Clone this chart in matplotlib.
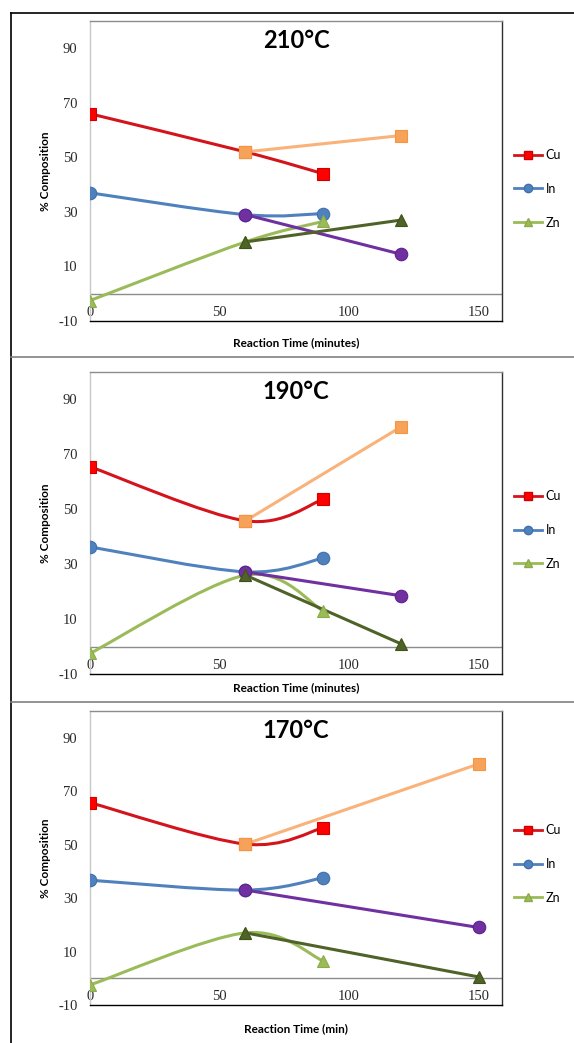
#!/usr/bin/env python3
# CuInZn composition vs reaction time at three temperatures (Excel style smoothed lines)
import numpy as np
import matplotlib
matplotlib.use('Agg')
import matplotlib.pyplot as plt
from matplotlib.path import Path
from matplotlib.patches import PathPatch
from matplotlib.lines import Line2D

plt.rcParams['axes.unicode_minus'] = False

# ---- data ----
time_main = [0, 60, 90]
time_late = [60, 120]          # 210 and 190 C
time_late_170 = [60, 150]      # 170 C

cu_210 = [66, 52, 44]
cu2_210 = [52, 58]
in_210 = [37, 29, 29.4]
in2_210 = [29, 14.5]
zn_210 = [-2.5, 19, 26.5]
zn2_210 = [19, 27]

cu_190 = [65.5, 45.8, 53.6]
cu2_190 = [45.8, 80]
in_190 = [36.3, 27.2, 32.2]
in2_190 = [27.2, 18.5]
zn_190 = [-2.5, 26, 13]
zn2_190 = [26, 1]

cu_170 = [65.7, 50.2, 56.3]
cu2_170 = [50.2, 80.2]
in_170 = [36.7, 33, 37.6]
in2_170 = [33, 19]
zn_170 = [-2.5, 17, 6.5]
zn2_170 = [17, 0.5]

titles = ['210°C', '190°C', '170°C']
xlabels = ['Reaction Time (minutes)', 'Reaction Time (minutes)', 'Reaction Time (min)']
legend_names = ['Cu', 'In', 'Zn']
xticks = [0, 50, 100, 150]
yticks = [-10, 10, 30, 50, 70, 90]

W, H = 574, 1043
# panel axes boxes in pixels: (top, bottom)
panel_px = [(21, 321), (372, 674), (711, 1005)]
legend_top_px = [149, 490, 824]
xlabel_pads = [12, 6, 13]
AX_LEFT, AX_RIGHT = 90, 502

SANS = ['Lato', 'DejaVu Sans']
SERIF = ['Liberation Serif', 'DejaVu Serif']

# colours: (line, marker face, marker edge)
C_CU = ('#d4141c', '#ff0000', '#d00000')
C_CU2 = ('#f9b27a', '#f7a25a', '#f59540')
C_IN = ('#4f81bd', '#4f81bd', '#3f71ad')
C_IN2 = ('#7030a0', '#7030a0', '#602090')
C_ZN = ('#9bbb59', '#9bbb59', '#8bab49')
C_ZN2 = ('#4f6228', '#4f6228', '#3f5218')


def smoothPath(xs, ys, t=1.0 / 6):
    '''bezier through the points, like excel "smoothed line"'''
    pts = np.column_stack([xs, ys]).astype(float)
    n = len(pts)
    verts = [pts[0]]
    codes = [Path.MOVETO]
    for i in range(n - 1):
        p_prev = pts[max(i - 1, 0)]
        p0 = pts[i]
        p1 = pts[i + 1]
        p_next = pts[min(i + 2, n - 1)]
        verts += [p0 + (p1 - p_prev) * t, p1 - (p_next - p0) * t, p1]
        codes += [Path.CURVE4] * 3
    return Path(verts, codes)


def drawSeries(ax, xs, ys, colors, marker, ms):
    line_c, face_c, edge_c = colors
    ax.add_patch(PathPatch(smoothPath(xs, ys), fill=False, edgecolor=line_c,
                           lw=2.2, capstyle='round', joinstyle='round', zorder=3))
    ax.plot(xs, ys, ls='none', marker=marker, ms=ms, mfc=face_c, mec=edge_c,
            mew=0.8, zorder=4)


def drawPanel(ax, series, title, xlabel, leg_top, xpad):
    cu, cu2, inn, inn2, zn, zn2, t_late = series
    drawSeries(ax, time_main, cu, C_CU, 's', 9)
    drawSeries(ax, time_main, inn, C_IN, 'o', 9)
    drawSeries(ax, time_main, zn, C_ZN, '^', 8.5)
    drawSeries(ax, t_late, cu2, C_CU2, 's', 9)
    drawSeries(ax, t_late, inn2, C_IN2, 'o', 9)
    drawSeries(ax, t_late, zn2, C_ZN2, '^', 8.5)

    ax.set_xlim(0, 159)
    ax.set_ylim(-10, 100)
    ax.axhline(0, color='#8c8c8c', lw=1.0, zorder=2)

    ax.set_xticks(xticks)
    ax.set_yticks(yticks)
    ax.tick_params(length=0, labelsize=10.5, colors='#2a2a2a')
    ax.tick_params(axis='x', pad=-10.5)
    ax.tick_params(axis='y', pad=9)
    for lab in ax.get_xticklabels() + ax.get_yticklabels():
        lab.set_family(SERIF)

    ax.spines['top'].set_color('#8c8c8c')
    ax.spines['left'].set_color('#c8c8c8')
    ax.spines['right'].set_color('#303030')
    ax.spines['bottom'].set_color('#000000')
    for s in ax.spines.values():
        s.set_linewidth(1.0)

    ax.text(0.5, 0.935, title, transform=ax.transAxes, ha='center', va='center',
            fontsize=17, fontweight='bold', family=SANS)
    ax.set_xlabel(xlabel, fontsize=8.5, fontweight='bold', family=SANS, labelpad=xpad)
    ax.set_ylabel('% Composition', fontsize=8.5, fontweight='bold', family=SANS,
                  labelpad=5)

    handles = [
        Line2D([], [], color=C_CU[0], lw=2, marker='s', ms=6, mfc=C_CU[1], mec=C_CU[2]),
        Line2D([], [], color=C_IN[0], lw=2, marker='o', ms=6, mfc=C_IN[1], mec=C_IN[2]),
        Line2D([], [], color=C_ZN[0], lw=2, marker='^', ms=6, mfc=C_ZN[1], mec=C_ZN[2]),
    ]
    ax.legend(handles, legend_names, loc='upper left', frameon=False,
              bbox_to_anchor=(514 / W, 1 - leg_top / H), bbox_transform=ax.figure.transFigure,
              borderpad=0, borderaxespad=0, handlelength=2.2, handletextpad=0.35,
              labelspacing=1.75, prop={'family': SANS, 'size': 9})


def main():
    fig = plt.figure(figsize=(W / 100, H / 100), dpi=100)
    fig.patch.set_facecolor('white')

    all_series = [
        (cu_210, cu2_210, in_210, in2_210, zn_210, zn2_210, time_late),
        (cu_190, cu2_190, in_190, in2_190, zn_190, zn2_190, time_late),
        (cu_170, cu2_170, in_170, in2_170, zn_170, zn2_170, time_late_170),
    ]
    for i, (top, bottom) in enumerate(panel_px):
        ax = fig.add_axes([AX_LEFT / W, 1 - bottom / H, (AX_RIGHT - AX_LEFT) / W, (bottom - top) / H])
        drawPanel(ax, all_series[i], titles[i], xlabels[i], legend_top_px[i], xlabel_pads[i])

    # table borders around the three charts
    fig.add_artist(Line2D([10.5 / W, 1], [1 - 12.5 / H] * 2, color='black', lw=1.2))
    fig.add_artist(Line2D([10.5 / W] * 2, [0, 1 - 12.5 / H], color='black', lw=1.2))
    for y in [357, 702]:
        fig.add_artist(Line2D([10.5 / W, 1], [1 - y / H] * 2, color='#808080', lw=1.2))

    fig.savefig('out.png', dpi=100)


if __name__ == "__main__":
    main()
